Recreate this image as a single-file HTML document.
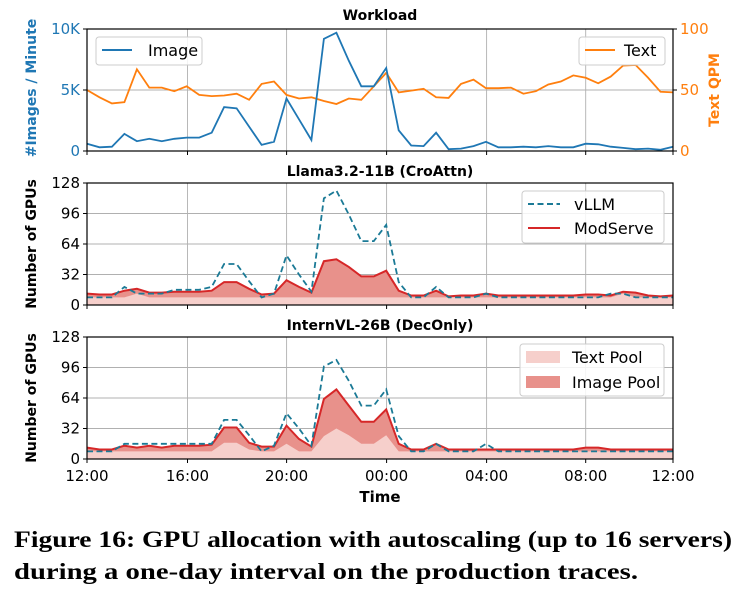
<!DOCTYPE html>
<html><head><meta charset="utf-8">
<style>
body{margin:0;background:#fff;}
#cap{position:absolute;left:14px;top:524px;font-family:"Liberation Serif",serif;font-weight:bold;font-size:23px;line-height:32px;color:#000;white-space:nowrap;}
#cap div{transform-origin:0 0;}
</style></head>
<body>
<svg id="s" width="740" height="602" xmlns="http://www.w3.org/2000/svg" font-family="DejaVu Sans, Liberation Sans, sans-serif" style="position:absolute;left:0;top:0"></svg>
<div id="cap"><div id="c1">Figure 16: GPU allocation with autoscaling (up to 16 servers)</div><div id="c2">during a one-day interval on the production traces.</div></div>
<script>
const L=87,R=673,N=48;
const X=i=>L+i*(R-L)/47;
const img=[0.6,0.3,0.35,1.4,0.8,1.0,0.8,1.0,1.1,1.1,1.5,3.6,3.5,2.0,0.5,0.75,4.3,2.6,0.9,9.2,9.7,7.4,5.3,5.3,6.8,1.7,0.45,0.4,1.5,0.15,0.2,0.4,0.75,0.3,0.3,0.35,0.3,0.4,0.3,0.3,0.6,0.55,0.35,0.25,0.15,0.2,0.1,0.35];
const txt=[50,44,39,40,67,52,52,49,53,46,45,45.5,47,42,55,57,46,43,44,41,38.5,43,42,53,64,48,49.5,51,44,43.5,55,58.5,51.5,51.5,52,47,49,54.5,57,62,60,55.5,61,70,70.5,60,48.5,48];
const v2=[8,8,8,19,12,12,12,16,16,16,19,43,43,25,8,12,52,32,14,112,120,95,67,67,84,24,8,8,19,8,8,8,12,8,8,8,8,8,8,8,8,8,12,12,8,8,8,8];
const m2=[12,11,11,15,17,13,13,14,14,14,15,24,24,17,11,12,26,19,13,46,48,40,30,30,36,15,10,10,15,9,10,10,12,10,10,10,10,10,10,10,11,11,10,14,13,10,9,10];
const t2=m2.map((v,i)=>Math.min(v,(i==4||i==43)?12:8));
const v3=[8,8,8,16,16,16,16,16,16,16,16,41,41,25,8,14,48,32,14,97,104,82,56,56,73,24,8,8,16,8,8,8,16,8,8,8,8,8,8,8,8,8,8,8,8,8,8,8];
const m3=[12,10,10,14,12,14,12,14,14,14,15,33,33,17,13,13,35,21,13,63,73,56,39,39,52,16,10,10,16,10,10,10,10,10,10,10,10,10,10,10,12,12,10,10,10,10,10,10];
const t3=[8,8,8,8,8,8,8,8,8,8,8,17,17,10,8,8,16,8,8,24,32,25,16,16,25,8,8,8,8,8,8,8,8,8,8,8,8,8,8,8,8,8,8,8,8,8,8,8];
let h='';
const pts=(a,top,bot,max)=>a.map((v,i)=>X(i).toFixed(1)+','+(bot-(v/max)*(bot-top)).toFixed(1)).join(' ');
const area=(a,top,bot,max)=>`${L},${bot} `+pts(a,top,bot,max)+` ${R},${bot}`;
const grid=[187.5,286.6,386.6,486.6,585.7];
function frame(top,bot,ticks,labels,lcol){
  let s='';
  ticks.forEach((t,k)=>{const y=bot-t*(bot-top);
    if(k>0&&k<ticks.length-1)s+=`<line x1="${L}" x2="${R}" y1="${y}" y2="${y}" stroke="#b0b0b0" stroke-width="0.9"/>`;
    s+=`<line x1="${L-4}" x2="${L}" y1="${y}" y2="${y}" stroke="#000"/>`;
    s+=`<text x="${L-7}" y="${y+5}" font-size="15" text-anchor="end" fill="${lcol}">${labels[k]}</text>`;});
  grid.forEach(x=>{s+=`<line x1="${x}" x2="${x}" y1="${top}" y2="${bot}" stroke="#b0b0b0" stroke-width="0.9"/><line x1="${x}" x2="${x}" y1="${bot}" y2="${bot+4}" stroke="#000"/>`;});
  s+=`<line x1="${L}" x2="${L}" y1="${bot}" y2="${bot+4}" stroke="#000"/><line x1="${R}" x2="${R}" y1="${bot}" y2="${bot+4}" stroke="#000"/>`;
  return s;
}
let T=29,B=151;
h+=frame(T,B,[0,0.5,1],['0','5K','10K'],'#1f77b4');
[0,0.5,1].forEach((t,k)=>{const y=B-t*(B-T);h+=`<line x1="${R}" x2="${R+4}" y1="${y}" y2="${y}" stroke="#000"/><text x="${R+7}" y="${y+5}" font-size="15" fill="#ff7f0e">${['0','50','100'][k]}</text>`;});
h+=`<polyline points="${pts(txt,T,B,100)}" fill="none" stroke="#ff7f0e" stroke-width="1.8"/>`;
h+=`<polyline points="${pts(img,T,B,10)}" fill="none" stroke="#1f77b4" stroke-width="1.8"/>`;
h+=`<rect x="${L}" y="${T}" width="${R-L}" height="${B-T}" fill="none" stroke="#000" stroke-width="1.2"/>`;
h+=`<rect x="96" y="37" width="106" height="28" rx="3" fill="#fff" fill-opacity="0.85" stroke="#ccc"/><line x1="102" x2="132" y1="50" y2="50" stroke="#1f77b4" stroke-width="2"/><text x="148" y="56" font-size="16">Image</text>`;
h+=`<rect x="579" y="37" width="86" height="28" rx="3" fill="#fff" fill-opacity="0.85" stroke="#ccc"/><line x1="585" x2="615" y1="50" y2="50" stroke="#ff7f0e" stroke-width="2"/><text x="624" y="56" font-size="16">Text</text>`;
h+=`<text x="380" y="20" font-size="14" font-weight="bold" text-anchor="middle">Workload</text>`;
h+=`<text transform="translate(36,88) rotate(-90)" font-size="14" font-weight="bold" text-anchor="middle" fill="#1f77b4">#Images / Minute</text>`;
h+=`<text transform="translate(719,90) rotate(-90)" font-size="14" font-weight="bold" text-anchor="middle" fill="#ff7f0e">Text QPM</text>`;
function gpu(T,B,v,m,t,title,leg){
  let s=frame(T,B,[0,.25,.5,.75,1],['0','32','64','96','128'],'#000');
  s+=`<polygon points="${area(m,T,B,128)}" fill="#e8918b"/>`;
  s+=`<polygon points="${area(t,T,B,128)}" fill="#f6cfcb"/>`;
  s+=`<polyline points="${pts(m,T,B,128)}" fill="none" stroke="#d62728" stroke-width="2"/>`;
  s+=`<polyline points="${pts(v,T,B,128)}" fill="none" stroke="#1b7a96" stroke-width="1.8" stroke-dasharray="6,3.5"/>`;
  s+=`<rect x="${L}" y="${T}" width="${R-L}" height="${B-T}" fill="none" stroke="#000" stroke-width="1.2"/>`;
  s+=`<text x="380" y="${T-7}" font-size="14" font-weight="bold" text-anchor="middle">${title}</text>`;
  s+=`<text transform="translate(36,${(T+B)/2}) rotate(-90)" font-size="14" font-weight="bold" text-anchor="middle">Number of GPUs</text>`;
  s+=leg;return s;
}
h+=gpu(183,305,v2,m2,t2,'Llama3.2-11B (CroAttn)',
 `<rect x="522" y="191" width="142" height="52" rx="3" fill="#fff" fill-opacity="0.85" stroke="#ccc"/><line x1="528" x2="560" y1="204" y2="204" stroke="#1b7a96" stroke-width="2" stroke-dasharray="6,3.5"/><text x="574" y="210" font-size="16">vLLM</text><line x1="528" x2="560" y1="228" y2="228" stroke="#d62728" stroke-width="2"/><text x="574" y="234" font-size="16">ModServe</text>`);
h+=gpu(337,459,v3,m3,t3,'InternVL-26B (DecOnly)',
 `<rect x="520" y="344" width="144" height="52" rx="3" fill="#fff" fill-opacity="0.85" stroke="#ccc"/><rect x="526" y="351" width="34" height="12" fill="#f6cfcb"/><text x="572" y="363" font-size="16">Text Pool</text><rect x="526" y="376" width="34" height="12" fill="#e8918b"/><text x="572" y="388" font-size="16">Image Pool</text>`);
['12:00','16:00','20:00','00:00','04:00','08:00','12:00'].forEach((l,k)=>{const x=[L,187.5,286.6,386.6,486.6,585.7,R][k];h+=`<text x="${x}" y="481" font-size="15" text-anchor="middle">${l}</text>`;});
h+=`<text x="380" y="502" font-size="15" font-weight="bold" text-anchor="middle">Time</text>`;
document.getElementById('s').innerHTML=h;
function fit(id,w){const e=document.getElementById(id);e.style.display='inline-block';const r=e.getBoundingClientRect().width;e.style.display='block';e.style.transform='scaleX('+(w/r)+')';}
fit('c1',718);fit('c2',624);
</script>
</body></html>
